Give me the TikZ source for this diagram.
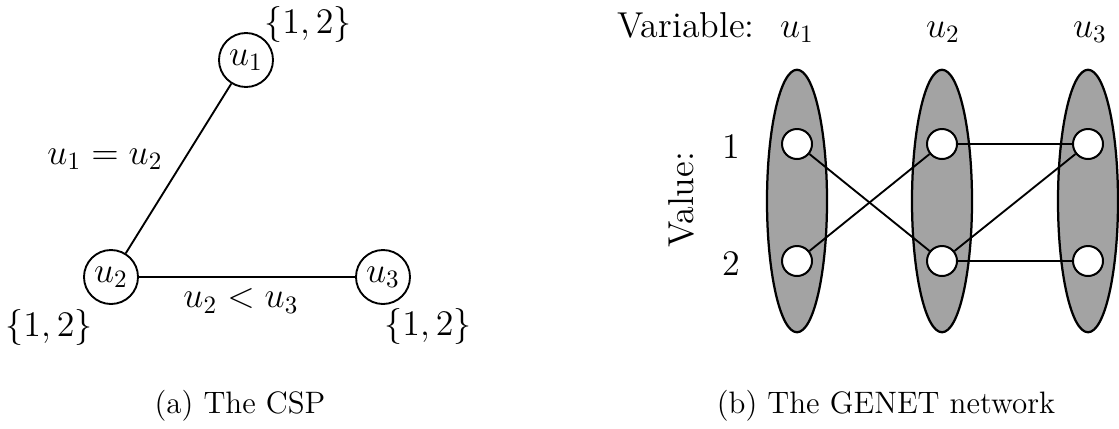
\documentclass[tikz,border=0pt]{standalone}
\usetikzlibrary{shapes.geometric}
\begin{document}
\begin{tikzpicture}[x=0.4pt,y=-0.4pt,
  every node/.style={font=\fontsize{14.4}{17}\selectfont},
  var/.style={circle,draw,line width=0.75pt,minimum size=21.6pt,inner sep=0pt},
  edge/.style={line width=0.75pt},
  grp/.style={ellipse,draw,line width=0.9pt,fill=black!36,minimum width=24pt,minimum height=105pt,inner sep=0pt},
  unit/.style={circle,draw,line width=0.8pt,fill=white,minimum size=12pt,inner sep=0pt},
  lbl/.style={inner sep=0pt},
  captxt/.style={inner sep=0pt,anchor=base,font=\fontsize{12.4}{15}\selectfont}]
\useasboundingbox (0,0) rectangle (1119,428);
% (a) The CSP
\node[var] (u1) at (246,60) {$u_1$};
\node[var] (u2) at (111,277) {$u_2$};
\node[var] (u3) at (383,277) {$u_3$};
\draw[edge] (u1) -- (u2);
\draw[edge] (u2) -- (u3);
\node[lbl] (d1) at (308,24) {$\{1,2\}$};
\node[lbl] (d2) at (49,327) {$\{1,2\}$};
\node[lbl] (d3) at (428,326) {$\{1,2\}$};
\node[lbl] (c12) at (105,159) {$u_1=u_2$};
\node[lbl] (c23) at (241,301) {$u_2<u_3$};
\node[captxt] (capa) at (240,413) {(a) The CSP};
% (b) The GENET network
\node[grp] (g1) at (797,201) {};
\node[grp] (g2) at (942,201) {};
\node[grp] (g3) at (1088,201) {};
\node[unit] (a1) at (797,144) {};
\node[unit] (a2) at (797,261) {};
\node[unit] (b1) at (942,144) {};
\node[unit] (b2) at (942,261) {};
\node[unit] (c1) at (1088,144) {};
\node[unit] (c2) at (1088,261) {};
\draw[edge] (a1) -- (b2);
\draw[edge] (a2) -- (b1);
\draw[edge] (b1) -- (c1);
\draw[edge] (b2) -- (c1);
\draw[edge] (b2) -- (c2);
\node[lbl,anchor=base] (varl) at (686,37) {Variable:};
\node[lbl,anchor=base] (hu1) at (797,37) {$u_1$};
\node[lbl,anchor=base] (hu2) at (943,37) {$u_2$};
\node[lbl,anchor=base] (hu3) at (1090,37) {$u_3$};
\node[lbl,rotate=90] (vall) at (681,200) {Value:};
\node[lbl] (v1) at (731,147) {1};
\node[lbl] (v2) at (731,264) {2};
\node[captxt] (capb) at (886,413) {(b) The GENET network};
\end{tikzpicture}
\end{document}
